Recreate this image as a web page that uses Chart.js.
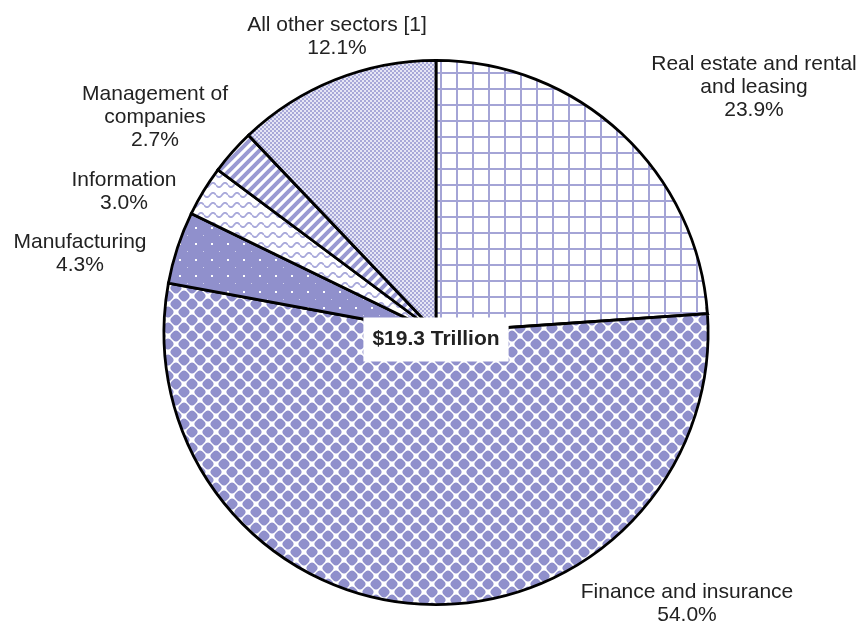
<!DOCTYPE html>
<html>
<head>
<meta charset="utf-8">
<script src="https://cdn.jsdelivr.net/npm/chart.js@4.4.1/dist/chart.umd.min.js"></script>
<style>
  body { margin: 0; background: #fff; }
  #wrap { width: 860px; height: 625px; }
</style>
</head>
<body>
<div id="wrap"><canvas id="myChartPie" width="860" height="625"></canvas></div>
<script>
// data
const sectors = ['Real estate and rental and leasing', 'Finance and insurance', 'Manufacturing', 'Information', 'Management of companies', 'All other sectors [1]'];
const shares = [23.9, 54.0, 4.3, 3.0, 2.7, 12.1];
const labelLines = [
    ['Real estate and rental', 'and leasing'],
    ['Finance and insurance'],
    ['Manufacturing'],
    ['Information'],
    ['Management of', 'companies'],
    ['All other sectors [1]']
];
const totalLabel = '$19.3 Trillion';

// label block centres, relative to pie centre (px)
const labelOffsets = [[318, -245], [251, 271], [-356, -79], [-312, -141], [-281, -215], [-99, -296]];

const LAV = '#9090cc';

function makePattern(w, h, draw) {
    let c = document.createElement('canvas');
    c.width = w;
    c.height = h;
    let g = c.getContext('2d');
    draw(g, w, h);
    return g.createPattern(c, 'repeat');
}

// grid
let pGrid = makePattern(16, 16, function (g) {
    g.fillStyle = '#fff';
    g.fillRect(0, 0, 16, 16);
    g.fillStyle = '#a4a4d6';
    g.fillRect(8, 0, 2, 16);
    g.fillRect(0, 8, 16, 2);
});

// rounded diamonds (circle clipped by a diamond)
let pDiamond = makePattern(16, 16, function (g) {
    g.fillStyle = '#fff';
    g.fillRect(0, 0, 16, 16);
    g.fillStyle = LAV;
    let d = 7, r = 5.6;
    [[0, 0], [16, 0], [0, 16], [16, 16], [8, 8]].forEach(function (p) {
        g.save();
        g.beginPath();
        g.moveTo(p[0], p[1] - d);
        g.lineTo(p[0] + d, p[1]);
        g.lineTo(p[0], p[1] + d);
        g.lineTo(p[0] - d, p[1]);
        g.closePath();
        g.clip();
        g.beginPath();
        g.arc(p[0], p[1], r, 0, Math.PI * 2);
        g.fill();
        g.restore();
    });
});

// solid with white dots
let pDots = makePattern(16, 16, function (g) {
    g.fillStyle = LAV;
    g.fillRect(0, 0, 16, 16);
    g.fillStyle = '#fff';
    g.fillRect(3, 3, 2, 2);
    g.fillStyle = 'rgba(255,255,255,0.6)';
    g.fillRect(11, 11, 1, 1);
});

// waves
let pWave = makePattern(12, 10, function (g) {
    g.fillStyle = '#fff';
    g.fillRect(0, 0, 12, 10);
    g.strokeStyle = '#a8a8da';
    g.lineWidth = 1.8;
    g.beginPath();
    for (let x = 0; x <= 12; x += 0.5) {
        let y = 5 + 2.2 * Math.sin(x / 12 * Math.PI * 2);
        if (x === 0) g.moveTo(x, y); else g.lineTo(x, y);
    }
    g.stroke();
});

// wide upward diagonal stripes
let pStripe = makePattern(10, 10, function (g) {
    g.fillStyle = '#fff';
    g.fillRect(0, 0, 10, 10);
    g.strokeStyle = '#9a9ad2';
    g.lineWidth = 4;
    g.beginPath();
    for (let k = -10; k <= 20; k += 10) {
        g.moveTo(k - 2, 12);
        g.lineTo(k + 12, -2);
    }
    g.stroke();
});

// fine checker
let pChecker = makePattern(4, 4, function (g) {
    g.fillStyle = '#e6e6f5';
    g.fillRect(0, 0, 4, 4);
    g.fillStyle = '#a8a8d8';
    g.fillRect(0, 0, 2, 2);
    g.fillRect(2, 2, 2, 2);
});

const patterns = [pGrid, pDiamond, pDots, pWave, pStripe, pChecker];

const labelPlugin = {
    id: 'sectorLabels',
    afterDraw: function (chart) {
        let ctx = chart.ctx;
        let arcs = chart.getDatasetMeta(0).data;
        if (!arcs.length) return;
        let cx = arcs[0].x, cy = arcs[0].y;
        ctx.save();
        ctx.textAlign = 'center';
        ctx.textBaseline = 'middle';
        ctx.fillStyle = '#222';
        ctx.font = '21px "Liberation Sans", Arial, sans-serif';
        let lh = 23;
        for (let i = 0; i < shares.length; i++) {
            let lines = labelLines[i].concat([shares[i].toFixed(1) + '%']);
            let bx = cx + labelOffsets[i][0];
            let by = cy + labelOffsets[i][1] - (lines.length - 1) * lh / 2;
            lines.forEach(function (t, j) {
                ctx.fillText(t, bx, by + j * lh);
            });
        }
        // centre total
        ctx.font = 'bold 21px "Liberation Sans", Arial, sans-serif';
        let w = ctx.measureText(totalLabel).width;
        let ty = cy + 7;
        ctx.fillStyle = '#fff';
        ctx.fillRect(cx - w / 2 - 9, ty - 22, w + 18, 44);
        ctx.fillStyle = '#222';
        ctx.fillText(totalLabel, cx, ty);
        ctx.restore();
    }
};

let canvas = document.getElementById('myChartPie');
let myChartPie = new Chart(canvas, {
    type: 'pie',
    data: {
        labels: sectors,
        datasets: [{
            data: shares,
            backgroundColor: patterns,
            borderColor: '#000',
            borderWidth: 2.8,
            borderJoinStyle: 'miter'
        }]
    },
    options: {
        responsive: false,
        animation: false,
        layout: { padding: { left: 12, right: 0, top: 59, bottom: 19 } },
        plugins: {
            legend: { display: false },
            tooltip: { enabled: false }
        }
    },
    plugins: [labelPlugin]
});
</script>
</body>
</html>
